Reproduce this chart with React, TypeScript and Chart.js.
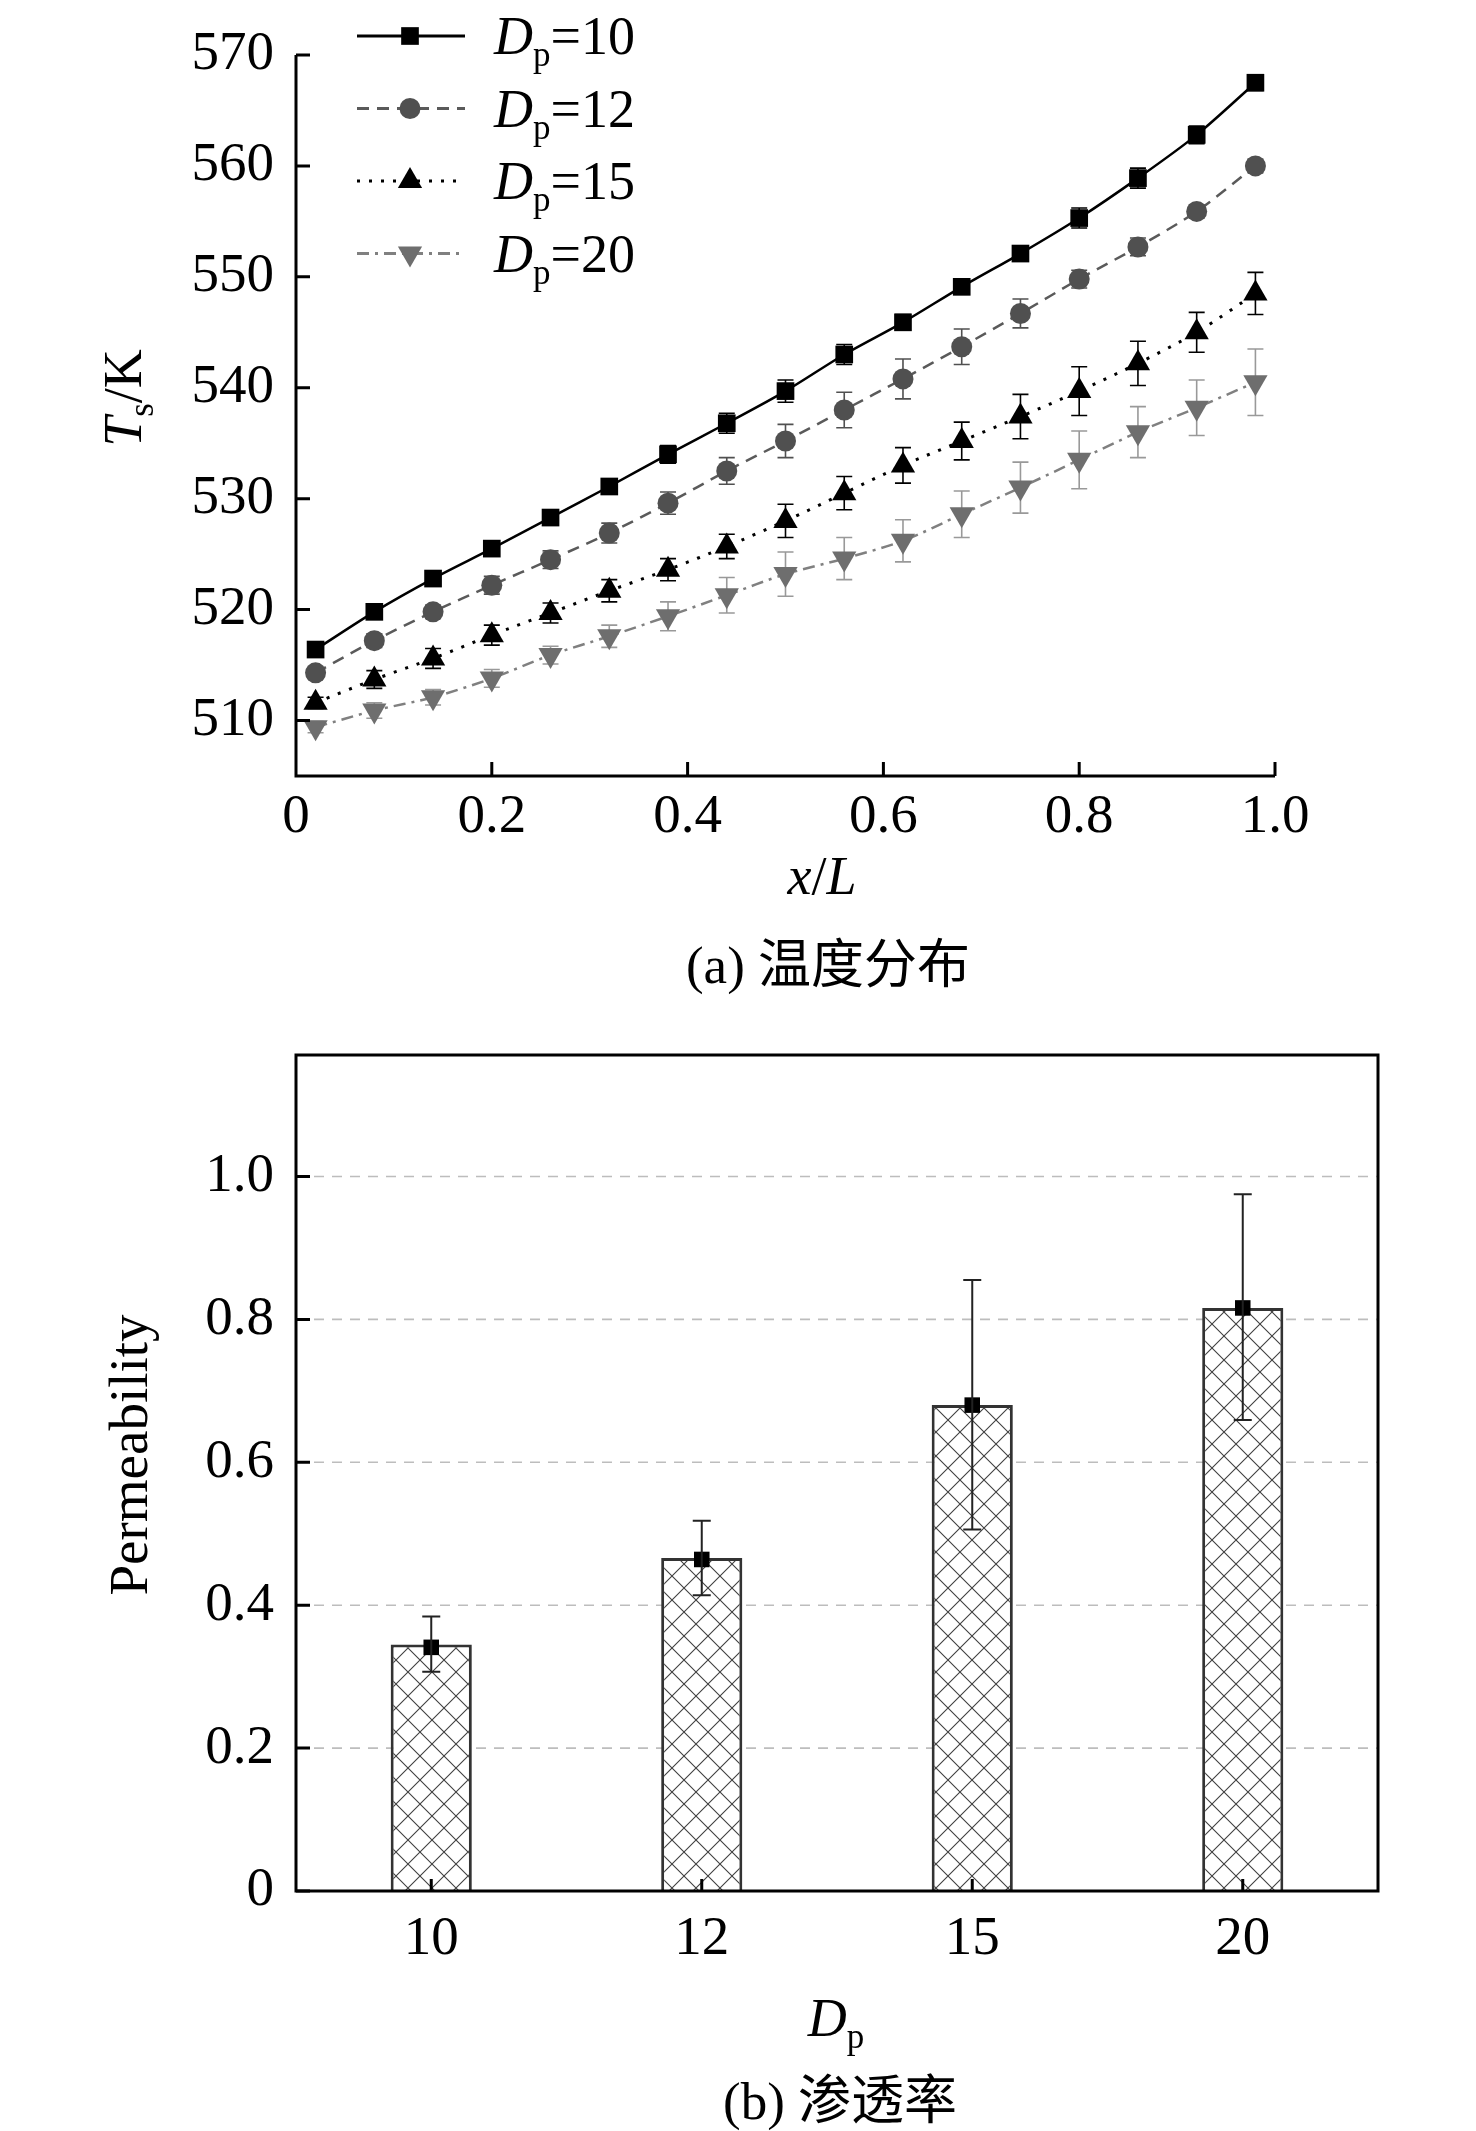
import React, { useEffect, useRef } from 'react';
import { Chart, registerables } from 'chart.js';

Chart.register(...registerables);

const SERIF = '"Liberation Serif", "Times New Roman", serif';
const CJK = '"Noto Sans CJK SC", sans-serif';

// (a) surface temperature along the bed
const xOverL = [0.02, 0.08, 0.14, 0.2, 0.26, 0.32, 0.38, 0.44, 0.5, 0.56, 0.62, 0.68, 0.74, 0.8, 0.86, 0.92, 0.98];
const tsDp10 = [516.4, 519.8, 522.8, 525.5, 528.3, 531.1, 534.0, 536.8, 539.7, 543.0, 545.9, 549.1, 552.1, 555.3, 558.9, 562.8, 567.5];
const tsDp12 = [514.3, 517.2, 519.8, 522.2, 524.5, 526.9, 529.6, 532.5, 535.2, 538.0, 540.8, 543.7, 546.7, 549.8, 552.7, 555.9, 560.0];
const tsDp15 = [511.6, 513.7, 515.6, 517.7, 519.7, 521.7, 523.6, 525.7, 528.0, 530.5, 533.0, 535.2, 537.4, 539.7, 542.2, 545.0, 548.5];
const tsDp20 = [509.4, 510.9, 512.1, 513.8, 515.9, 517.6, 519.4, 521.3, 523.2, 524.6, 526.2, 528.6, 531.0, 533.5, 536.0, 538.2, 540.5];
const errDp10 = [0.6, 0.6, 0.7, 0.6, 0.6, 0.7, 0.8, 0.9, 1.0, 0.9, 0.7, 0.6, 0.7, 0.9, 0.9, 0.8, 0.7];
const errDp12 = [0.5, 0.6, 0.6, 0.8, 0.8, 0.9, 1.0, 1.2, 1.5, 1.6, 1.8, 1.6, 1.3, 0.8, 0.8, 0.6, 0.6];
const errDp15 = [0.5, 0.8, 0.9, 0.9, 0.9, 1.0, 1.0, 1.1, 1.5, 1.5, 1.6, 1.7, 2.0, 2.2, 2.0, 1.8, 1.9];
const errDp20 = [0.5, 0.7, 0.7, 0.8, 0.8, 1.0, 1.3, 1.6, 2.0, 1.9, 1.9, 2.1, 2.3, 2.6, 2.3, 2.5, 3.0];
const xTicks = [0, 0.2, 0.4, 0.6, 0.8, 1.0];
const tsTicks = [510, 520, 530, 540, 550, 560, 570];

// (b) permeability
const dpLabels = ['10', '12', '15', '20'];
const permBar = [0.345, 0.466, 0.68, 0.816];
const permMean = [0.341, 0.464, 0.68, 0.816];
const permHigh = [0.384, 0.518, 0.855, 0.975];
const permLow = [0.307, 0.414, 0.506, 0.659];
const permTicks = [0, 0.2, 0.4, 0.6, 0.8, 1.0];

const series = [
  { dp: '10', data: tsDp10, err: errDp10, line: '#000', fill: '#000', errColor: '#000', dash: [], shape: 'rect', r: 12.5 },
  { dp: '12', data: tsDp12, err: errDp12, line: '#5a5a5a', fill: '#505050', errColor: '#505050', dash: [12, 8], shape: 'circle', r: 10.5 },
  { dp: '15', data: tsDp15, err: errDp15, line: '#000', fill: '#000', errColor: '#000', dash: [3, 9], shape: 'triangle', r: 14 },
  { dp: '20', data: tsDp20, err: errDp20, line: '#808080', fill: '#6e6e6e', errColor: '#999', dash: [12, 6, 3, 6], shape: 'triangleDown', r: 14 },
];

type Seg = { t: string; it?: boolean; sub?: boolean; cjk?: boolean };

const segFont = (s: Seg, size: number) =>
  `${s.it ? 'italic ' : ''}${s.sub ? Math.round(size * 0.65) : size}px ${s.cjk ? CJK : SERIF}`;

const drawRich = (ctx: CanvasRenderingContext2D, segs: Seg[], x: number, y: number, size: number, center = false, rot = 0) => {
  ctx.save();
  ctx.translate(x, y);
  if (rot) ctx.rotate(rot);
  let w = 0;
  for (const s of segs) {
    ctx.font = segFont(s, size);
    w += ctx.measureText(s.t).width;
  }
  let cx = center ? -w / 2 : 0;
  ctx.fillStyle = '#000';
  ctx.textAlign = 'left';
  ctx.textBaseline = 'alphabetic';
  for (const s of segs) {
    ctx.font = segFont(s, size);
    ctx.fillText(s.t, cx, size * 0.34 + (s.sub ? size * 0.22 : 0));
    cx += ctx.measureText(s.t).width;
  }
  ctx.restore();
};

const drawMarker = (ctx: CanvasRenderingContext2D, shape: string, x: number, y: number, r: number, color: string) => {
  ctx.save();
  ctx.fillStyle = color;
  ctx.beginPath();
  if (shape === 'rect') {
    const s = r * Math.SQRT1_2;
    ctx.rect(x - s, y - s, 2 * s, 2 * s);
  } else if (shape === 'circle') {
    ctx.arc(x, y, r, 0, Math.PI * 2);
  } else if (shape === 'triangle') {
    ctx.moveTo(x, y - r);
    ctx.lineTo(x + r * 0.866, y + r * 0.5);
    ctx.lineTo(x - r * 0.866, y + r * 0.5);
    ctx.closePath();
  } else {
    ctx.moveTo(x, y + r);
    ctx.lineTo(x + r * 0.866, y - r * 0.5);
    ctx.lineTo(x - r * 0.866, y - r * 0.5);
    ctx.closePath();
  }
  ctx.fill();
  ctx.restore();
};

const fmt = (v: number) => (v === 0 ? '0' : v.toFixed(1));

const tickFont = { family: SERIF, size: 55 };

const tempPlugin = {
  id: 'tempDecor',
  beforeDatasetsDraw(chart: any) {
    const { ctx, scales } = chart;
    series.forEach((s) => {
      ctx.save();
      ctx.strokeStyle = s.errColor;
      ctx.lineWidth = 1.6;
      s.data.forEach((v, i) => {
        const x = scales.x.getPixelForValue(xOverL[i]);
        const y1 = scales.y.getPixelForValue(v + s.err[i]);
        const y2 = scales.y.getPixelForValue(v - s.err[i]);
        ctx.beginPath();
        ctx.moveTo(x, y1);
        ctx.lineTo(x, y2);
        ctx.moveTo(x - 8, y1);
        ctx.lineTo(x + 8, y1);
        ctx.moveTo(x - 8, y2);
        ctx.lineTo(x + 8, y2);
        ctx.stroke();
      });
      ctx.restore();
    });
  },
  afterDraw(chart: any) {
    const { ctx, chartArea: a, scales } = chart;
    ctx.save();
    ctx.strokeStyle = '#000';
    ctx.lineWidth = 3;
    ctx.beginPath();
    ctx.moveTo(a.left, a.top);
    ctx.lineTo(a.left, a.bottom);
    ctx.lineTo(a.right, a.bottom);
    xTicks.forEach((v) => {
      const x = scales.x.getPixelForValue(v);
      ctx.moveTo(x, a.bottom);
      ctx.lineTo(x, a.bottom - 14);
    });
    tsTicks.forEach((v) => {
      const y = scales.y.getPixelForValue(v);
      ctx.moveTo(a.left, y);
      ctx.lineTo(a.left + 14, y);
    });
    ctx.stroke();
    ctx.restore();

    // legend
    series.forEach((s, i) => {
      const y = 36 + i * 72.5;
      ctx.save();
      ctx.strokeStyle = s.line;
      ctx.lineWidth = 3;
      ctx.setLineDash(s.dash);
      ctx.beginPath();
      ctx.moveTo(357, y);
      ctx.lineTo(465, y);
      ctx.stroke();
      ctx.restore();
      drawMarker(ctx, s.shape, 410, y, s.r, s.fill);
      drawRich(ctx, [{ t: 'D', it: true }, { t: 'p', sub: true }, { t: '=' + s.dp }], 494, y, 54);
    });

    drawRich(ctx, [{ t: 'T', it: true }, { t: 's', sub: true }, { t: '/K' }], 123, 398, 54, true, -Math.PI / 2);
    drawRich(ctx, [{ t: 'x', it: true }, { t: '/' }, { t: 'L', it: true }], 822, 876, 54, true);
    drawRich(ctx, [{ t: '(a) ' }, { t: '温度分布', cjk: true }], 828, 965, 53, true);
  },
};

const permPlugin = {
  id: 'permDecor',
  beforeDatasetsDraw(chart: any) {
    const { ctx, chartArea: a, scales } = chart;
    ctx.save();
    ctx.strokeStyle = '#bdbdbd';
    ctx.lineWidth = 1.6;
    ctx.setLineDash([10, 8]);
    permTicks.forEach((v) => {
      if (v === 0) return;
      const y = scales.y.getPixelForValue(v);
      ctx.beginPath();
      ctx.moveTo(a.left, y);
      ctx.lineTo(a.right, y);
      ctx.stroke();
    });
    ctx.restore();
  },
  afterDatasetsDraw(chart: any) {
    const { ctx, chartArea: a, scales } = chart;
    ctx.save();
    ctx.strokeStyle = '#222';
    ctx.lineWidth = 2;
    dpLabels.forEach((_, i) => {
      const x = scales.x.getPixelForValue(i);
      const y1 = scales.y.getPixelForValue(permHigh[i]);
      const y2 = scales.y.getPixelForValue(permLow[i]);
      ctx.beginPath();
      ctx.moveTo(x, y1);
      ctx.lineTo(x, y2);
      ctx.moveTo(x - 9, y1);
      ctx.lineTo(x + 9, y1);
      ctx.moveTo(x - 9, y2);
      ctx.lineTo(x + 9, y2);
      ctx.stroke();
    });
    ctx.restore();

    ctx.save();
    ctx.strokeStyle = '#000';
    ctx.lineWidth = 3;
    ctx.strokeRect(a.left, a.top, a.right - a.left, a.bottom - a.top);
    ctx.beginPath();
    dpLabels.forEach((_, i) => {
      const x = scales.x.getPixelForValue(i);
      ctx.moveTo(x, a.bottom);
      ctx.lineTo(x, a.bottom - 12);
    });
    permTicks.forEach((v) => {
      const y = scales.y.getPixelForValue(v);
      ctx.moveTo(a.left, y);
      ctx.lineTo(a.left + 14, y);
    });
    ctx.stroke();
    ctx.restore();
  },
  afterDraw(chart: any) {
    const { ctx } = chart;
    drawRich(ctx, [{ t: 'Permeability' }], 128, 455, 55, true, -Math.PI / 2);
    drawRich(ctx, [{ t: 'D', it: true }, { t: 'p', sub: true }], 836, 1018, 54, true);
    drawRich(ctx, [{ t: '(b) ' }, { t: '渗透率', cjk: true }], 840, 1101, 53, true);
  },
};

const makeHatch = () => {
  const c = document.createElement('canvas');
  c.width = 24;
  c.height = 24;
  const g = c.getContext('2d')!;
  g.fillStyle = '#fff';
  g.fillRect(0, 0, 24, 24);
  g.strokeStyle = '#404040';
  g.lineWidth = 1.1;
  g.beginPath();
  g.moveTo(-2, -2);
  g.lineTo(26, 26);
  g.moveTo(26, -2);
  g.lineTo(-2, 26);
  g.stroke();
  return g.createPattern(c, 'repeat');
};

const App: React.FC = () => {
  const tempRef = useRef<HTMLCanvasElement>(null);
  const permRef = useRef<HTMLCanvasElement>(null);

  useEffect(() => {
    if (!tempRef.current || !permRef.current) return;

    const tempChart = new Chart(tempRef.current, {
      type: 'line',
      data: {
        datasets: series.map((s) => ({
          label: 'Dp=' + s.dp,
          data: s.data.map((v, i) => ({ x: xOverL[i], y: v })),
          borderColor: s.line,
          borderWidth: s.shape === 'triangle' ? 3 : 2.5,
          borderDash: s.dash,
          tension: 0.3,
          fill: false,
          pointStyle: s.shape === 'triangleDown' ? 'triangle' : s.shape,
          pointRotation: s.shape === 'triangleDown' ? 180 : 0,
          pointRadius: s.r,
          pointBackgroundColor: s.fill,
          pointBorderColor: s.fill,
          pointBorderWidth: 0,
        })),
      } as any,
      options: {
        responsive: false,
        animation: false,
        devicePixelRatio: 1,
        layout: { padding: { left: 0, right: 201, top: 30, bottom: 0 }, autoPadding: false } as any,
        plugins: { legend: { display: false }, tooltip: { enabled: false } },
        scales: {
          x: {
            type: 'linear',
            min: 0,
            max: 1,
            afterBuildTicks: (s: any) => { s.ticks = xTicks.map((v) => ({ value: v })); },
            afterFit: (s: any) => { s.height = 224; },
            grid: { display: false, drawTicks: false },
            border: { display: false },
            ticks: { padding: 9, color: '#000', font: tickFont, maxRotation: 0, autoSkip: false, callback: (v: any) => fmt(Number(v)) },
          },
          y: {
            type: 'linear',
            min: 505,
            max: 570,
            afterBuildTicks: (s: any) => { s.ticks = tsTicks.map((v) => ({ value: v })); },
            afterFit: (s: any) => { s.width = 296; },
            grid: { display: false, drawTicks: false },
            border: { display: false },
            ticks: { padding: 22, color: '#000', font: tickFont, autoSkip: false, callback: (v: any) => String(v) },
          },
        },
      } as any,
      plugins: [tempPlugin],
    });

    const permChart = new Chart(permRef.current, {
      type: 'bar',
      data: {
        labels: dpLabels,
        datasets: [
          {
            type: 'line',
            label: 'mean',
            data: permMean,
            showLine: false,
            pointStyle: 'rect',
            pointRadius: 11,
            pointBackgroundColor: '#000',
            pointBorderWidth: 0,
            order: 1,
          },
          {
            type: 'bar',
            label: 'Permeability',
            data: permBar,
            backgroundColor: makeHatch(),
            borderColor: '#333',
            borderWidth: 3,
            borderSkipped: 'bottom',
            barPercentage: 0.3,
            categoryPercentage: 1,
            order: 2,
          },
        ],
      } as any,
      options: {
        responsive: false,
        animation: false,
        devicePixelRatio: 1,
        layout: { padding: { left: 0, right: 98, top: 39, bottom: 0 }, autoPadding: false } as any,
        plugins: { legend: { display: false }, tooltip: { enabled: false } },
        scales: {
          x: {
            type: 'category',
            offset: true,
            afterFit: (s: any) => { s.height = 240; },
            grid: { display: false, drawTicks: false },
            border: { display: false },
            ticks: { padding: 16, color: '#000', font: tickFont, maxRotation: 0 },
          },
          y: {
            type: 'linear',
            min: 0,
            max: 1.17,
            afterBuildTicks: (s: any) => { s.ticks = permTicks.map((v) => ({ value: v })); },
            afterFit: (s: any) => { s.width = 296; },
            grid: { display: false, drawTicks: false },
            border: { display: false },
            ticks: { padding: 22, color: '#000', font: tickFont, autoSkip: false, callback: (v: any) => fmt(Number(v)) },
          },
        },
      } as any,
      plugins: [permPlugin],
    });

    return () => {
      tempChart.destroy();
      permChart.destroy();
    };
  }, []);

  return (
    <div style={{ position: 'absolute', left: 0, top: 0, width: 1476, height: 2131, background: '#fff' }}>
      <canvas ref={tempRef} width={1476} height={1000} style={{ position: 'absolute', left: 0, top: 0, width: 1476, height: 1000 }} />
      <canvas ref={permRef} width={1476} height={1131} style={{ position: 'absolute', left: 0, top: 1000, width: 1476, height: 1131 }} />
    </div>
  );
};

export default App;
